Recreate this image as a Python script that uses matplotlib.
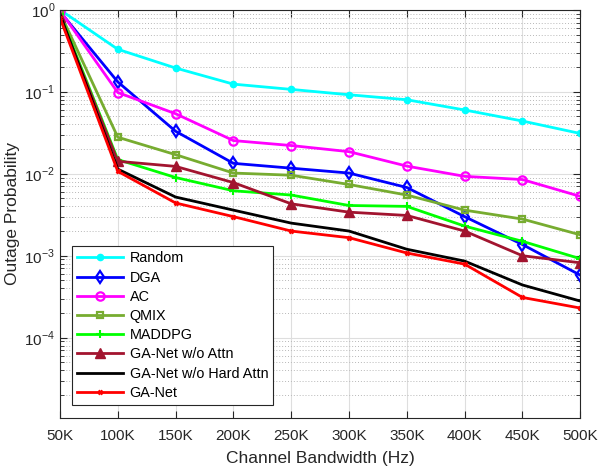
import matplotlib.pyplot as plt
import numpy as np
from matplotlib.ticker import LogLocator, NullFormatter

bandwidth_k = [50, 100, 150, 200, 250, 300, 350, 400, 450, 500]
tick_labels = [f"{b}K" for b in bandwidth_k]

random_p = [1.0, 0.33, 0.195, 0.124, 0.107, 0.092, 0.080, 0.060, 0.044, 0.031]
dga_p = [0.95, 0.132, 0.033, 0.0134, 0.0117, 0.0102, 0.0068, 0.0030, 0.00137, 0.00058]
ac_p = [0.98, 0.098, 0.054, 0.0254, 0.0221, 0.0186, 0.0124, 0.0093, 0.0085, 0.0053]
qmix_p = [0.92, 0.0279, 0.0171, 0.0102, 0.0096, 0.0074, 0.0055, 0.0036, 0.0028, 0.0018]
maddpg_p = [0.88, 0.0149, 0.0090, 0.0062, 0.0055, 0.0041, 0.0040, 0.0023, 0.0015, 0.00092]
noattn_p = [0.82, 0.0142, 0.0123, 0.0078, 0.0043, 0.0034, 0.0031, 0.0020, 0.0010, 0.00082]
nohard_p = [0.88, 0.0114, 0.0052, 0.0036, 0.0025, 0.0020, 0.0012, 0.00086, 0.00044, 0.00028]
ganet_p = [0.80, 0.0107, 0.0044, 0.0030, 0.0020, 0.00166, 0.00108, 0.00079, 0.00031, 0.00023]

plt.rcParams["font.family"] = ["Liberation Sans", "DejaVu Sans"]
plt.rcParams["mathtext.fontset"] = "custom"
plt.rcParams["mathtext.rm"] = "Liberation Sans"

fig = plt.figure(figsize=(6, 4.68), dpi=100)
ax = fig.add_axes([0.1, 0.107, 0.867, 0.872])

x = np.array(bandwidth_k) * 1000
lw = 2
ax.plot(x, random_p, "-o", color=(0, 1, 1), lw=lw, ms=4.5, label="Random")
ax.plot(x, dga_p, "-d", color=(0, 0, 1), lw=lw, ms=6, mfc="none", mew=1.6, label="DGA")
ax.plot(x, ac_p, "-o", color=(1, 0, 1), lw=lw, ms=6, mfc="none", mew=1.6, label="AC")
ax.plot(x, qmix_p, "-s", color=(0.466, 0.674, 0.188), lw=lw, ms=5, mfc="none", mew=1.6, label="QMIX")
ax.plot(x, maddpg_p, "-+", color=(0, 1, 0), lw=lw, ms=6, mew=1.5, label="MADDPG")
ax.plot(x, noattn_p, "-^", color=(0.635, 0.078, 0.184), lw=lw, ms=7, label="GA-Net w/o Attn")
ax.plot(x, nohard_p, "-", color="black", lw=lw, label="GA-Net w/o Hard Attn")
ax.plot(x, ganet_p, "-x", color=(1, 0, 0), lw=lw, ms=3.5, mew=1.8, label="GA-Net")

ax.set_yscale("log")
ax.set_xlim(50000, 500000)
ax.set_ylim(1.05e-5, 1)
ax.set_xticks(x)
ax.set_xticklabels(tick_labels)
ax.set_yticks([1e-4, 1e-3, 1e-2, 1e-1, 1])
ax.set_yticklabels([r"$10^{-4}$", r"$10^{-3}$", r"$10^{-2}$", r"$10^{-1}$", r"$10^{0}$"])
ax.yaxis.set_minor_locator(LogLocator(base=10, subs=np.arange(2, 10), numticks=20))
ax.yaxis.set_minor_formatter(NullFormatter())

ax.grid(True, which="major", color=(0.87, 0.87, 0.87), lw=0.8)
ax.grid(True, which="minor", axis="y", color=(0.72, 0.72, 0.72), lw=0.7, ls=(0, (1, 2)))
ax.set_axisbelow(True)

edge = (0.15, 0.15, 0.15)
for s in ax.spines.values():
    s.set_color(edge)
    s.set_linewidth(0.8)
ax.tick_params(which="both", direction="in", top=True, right=True, colors=edge,
               labelsize=11, labelcolor=edge)
ax.tick_params(which="major", length=5)
ax.tick_params(which="minor", length=3)
ax.tick_params(axis="x", pad=8)

ax.set_xlabel("Channel Bandwidth (Hz)", fontsize=12.5, color=edge, labelpad=6)
ax.set_ylabel("Outage Probability", fontsize=12.5, color=edge, labelpad=3)

leg = ax.legend(loc="lower left", bbox_to_anchor=(0.023, 0.032), borderaxespad=0,
                fontsize=10.4, fancybox=False, framealpha=1, edgecolor=edge,
                handlelength=3.2, borderpad=0.35, labelspacing=0.36, handletextpad=0.45)
leg.get_frame().set_linewidth(0.8)

fig.savefig("out.png", dpi=100)
